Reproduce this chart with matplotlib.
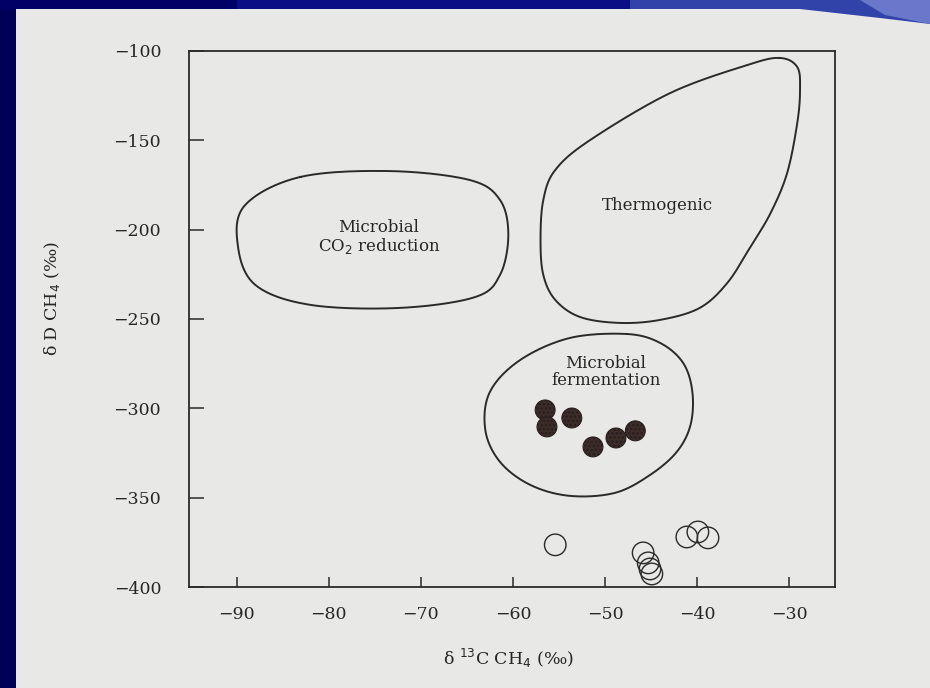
import numpy as np
import matplotlib
matplotlib.use("Agg")
import matplotlib.pyplot as plt
from matplotlib.patches import Rectangle, Polygon

plt.rcParams["font.family"] = ["DejaVu Serif", "DejaVu Sans"]
plt.rcParams["hatch.color"] = "#8e7f7b"
plt.rcParams["hatch.linewidth"] = 1.2

# Axis ticks
x_ticks = [-90, -80, -70, -60, -50, -40, -30]
y_ticks = [-100, -150, -200, -250, -300, -350, -400]

# Genetic fields (outline vertices, delta13C / deltaD)
co2_x = [-83.1, -73.4, -64.7, -61.4, -60.5, -61.4, -64.1, -72.3, -82.0, -88.0, -89.9, -89.1]
co2_y = [-170.5, -167.2, -172.2, -183.4, -203.0, -225.3, -237.7, -243.8, -242.1, -230.9, -208.6, -186.2]

thermo_x = [-31.0, -29.1, -28.8, -29.1, -30.2, -32.0, -34.2, -36.7, -39.7, -44.0,
            -48.4, -52.7, -55.4, -56.7, -57.0, -56.7, -55.4, -51.6, -42.9, -34.5]
thermo_y = [-103.9, -109.0, -121.8, -140.3, -168.3, -190.7, -209.7, -229.8, -243.8, -250.5,
            -252.2, -248.9, -239.3, -225.3, -205.8, -183.4, -166.6, -149.8, -123.5, -107.8]

ferm_x = [-47.6, -44.0, -41.5, -40.5, -40.7, -42.2, -45.1, -48.9, -53.8, -58.1,
          -61.4, -63.0, -62.5, -59.2, -53.8]
ferm_y = [-258.4, -263.4, -274.6, -290.8, -309.3, -324.4, -337.3, -347.3, -349.0, -342.9,
          -330.0, -312.1, -290.8, -272.9, -260.6]

# Soil-gas samples
filled_d13c = [-56.5, -56.3, -53.6, -51.3, -48.8, -46.7]
filled_dD = [-300.9, -310.4, -305.4, -321.6, -316.6, -312.6]

open_d13c = [-55.4, -45.85, -45.3, -45.1, -44.9, -41.1, -39.9, -38.8]
open_dD = [-376.4, -380.9, -386.5, -389.9, -392.7, -372.0, -369.2, -372.5]


def closed_curve(xs, ys, n=24):
    """Closed Catmull-Rom curve through the given outline vertices."""
    p = np.column_stack([xs, ys])
    m = len(p)
    t = np.linspace(0, 1, n, endpoint=False)[:, None]
    out = []
    for i in range(m):
        p0, p1, p2, p3 = p[i - 1], p[i], p[(i + 1) % m], p[(i + 2) % m]
        seg = 0.5 * ((2 * p1) + (-p0 + p2) * t + (2 * p0 - 5 * p1 + 4 * p2 - p3) * t ** 2
                     + (-p0 + 3 * p1 - 3 * p2 + p3) * t ** 3)
        out.append(seg)
    out = np.vstack(out)
    return np.vstack([out, out[:1]])


page = "#e8e8e6"
ink = "#2a2a2a"
txt = "#262626"

fig = plt.figure(figsize=(9.3, 6.88), dpi=100)
fig.patch.set_facecolor(page)
ax = fig.add_axes([189 / 930, 1 - 587 / 688, (835 - 189) / 930, (587 - 51) / 688])
ax.set_facecolor(page)

for xs, ys in [(co2_x, co2_y), (thermo_x, thermo_y), (ferm_x, ferm_y)]:
    c = closed_curve(xs, ys)
    ax.plot(c[:, 0], c[:, 1], color=ink, lw=1.4, solid_joinstyle="round")

ax.scatter(filled_d13c, filled_dD, s=205, facecolor="#3b2c2a", edgecolor="#2a1f1e",
           linewidth=0.8, hatch="....", zorder=3)
ax.scatter(open_d13c, open_dD, s=240, facecolor="none", edgecolor=ink,
           linewidth=1.0, zorder=3)

lab = dict(ha="center", va="center", fontsize=12, color=txt)
ax.text(-74.55, -204.6, "Microbial\nCO$_2$ reduction", linespacing=1.0, **lab)
ax.text(-44.3, -186.2, "Thermogenic", **lab)
ax.text(-49.9, -279.6, "Microbial\nfermentation", linespacing=1.0, **lab)

ax.set_xlim(-95.2, -25.0)
ax.set_ylim(-400, -100)
ax.set_xticks(x_ticks)
ax.set_yticks(y_ticks)
ax.tick_params(axis="x", direction="in", length=7, width=1.1, color=ink, pad=14,
               labelsize=12.5, labelcolor=txt)
ax.tick_params(axis="y", direction="in", length=11, width=1.1, color=ink, pad=20,
               labelsize=12.5, labelcolor=txt)
for s in ax.spines.values():
    s.set_color(ink)
    s.set_linewidth(1.3)

fig.text(508 / 930, 1 - 658 / 688, "δ $^{13}$C CH$_4$ (‰)", ha="center", va="center",
         fontsize=12.5, color=txt)
fig.text(52 / 930, 1 - 298 / 688, "δ D CH$_4$ (‰)", ha="center", va="center",
         rotation=90, fontsize=12.5, color=txt)

# Slide frame
fig.add_artist(Rectangle((0, 0), 16 / 930, 1, transform=fig.transFigure,
                         facecolor="#000058", edgecolor="none", zorder=5))
fig.add_artist(Rectangle((0, 1 - 9 / 688), 1, 9 / 688, transform=fig.transFigure,
                         facecolor="#000066", edgecolor="none", zorder=5))
fig.add_artist(Rectangle((237 / 930, 1 - 9 / 688), (630 - 237) / 930, 9 / 688,
                         transform=fig.transFigure, facecolor="#0a0f86",
                         edgecolor="none", zorder=5))
fig.add_artist(Polygon([(630 / 930, 1), (930 / 930, 1), (930 / 930, 1 - 24 / 688),
                        (880 / 930, 1 - 18 / 688), (800 / 930, 1 - 9 / 688), (630 / 930, 1 - 9 / 688)],
                       closed=True, transform=fig.transFigure,
                       facecolor="#3142a8", edgecolor="none", zorder=5))
fig.add_artist(Polygon([(860 / 930, 1), (930 / 930, 1), (930 / 930, 1 - 24 / 688),
                        (885 / 930, 1 - 15 / 688)],
                       closed=True, transform=fig.transFigure,
                       facecolor="#6a78cc", edgecolor="none", zorder=5))

fig.savefig("out.png", dpi=100, facecolor=page)
